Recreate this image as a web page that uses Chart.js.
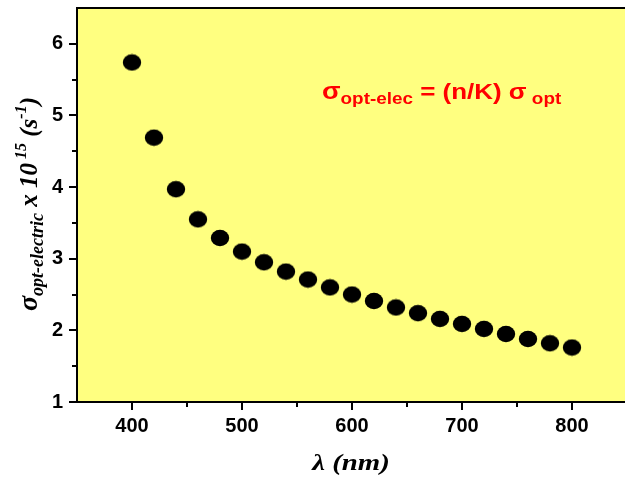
<!DOCTYPE html>
<html>
<head>
<meta charset="utf-8">
<script src="https://cdn.jsdelivr.net/npm/chart.js@4"></script>
<style>
  html, body { margin: 0; padding: 0; background: #fff; overflow: hidden; }
  canvas { display: block; }
</style>
</head>
<body>
<canvas id="myChart" width="632" height="478"></canvas>
<script>
// Data
const wavelengths = [400, 420, 440, 460, 480, 500, 520, 540, 560, 580, 600,
                     620, 640, 660, 680, 700, 720, 740, 760, 780, 800];
const sigmaOptElec = [5.74, 4.69, 3.97, 3.55, 3.29, 3.10, 2.95, 2.82, 2.71, 2.60, 2.50,
                      2.41, 2.32, 2.24, 2.16, 2.09, 2.02, 1.95, 1.88, 1.82, 1.76];
const xTicks = [400, 500, 600, 700, 800];
const yTicks = [1, 2, 3, 4, 5, 6];
const xMinor = [350, 450, 550, 650, 750, 850];
const yMinor = [1.5, 2.5, 3.5, 4.5, 5.5];

// Ellipse marker (the original is a little wider than tall)
const dot = document.createElement('canvas');
dot.width = 20; dot.height = 18;
const dctx = dot.getContext('2d');
dctx.fillStyle = '#000';
dctx.beginPath();
dctx.ellipse(10, 9, 9.2, 8.2, 0, 0, Math.PI * 2);
dctx.fill();

const serif = '"Liberation Serif", "Times New Roman", serif';
const sans = '"Liberation Sans", Arial, sans-serif';

// draw a run of [text, font, dy] pieces starting at x, returns end x
function drawRuns(ctx, runs, x, y) {
  runs.forEach(r => {
    ctx.font = r[1];
    ctx.fillText(r[0], x, y + r[2]);
    x += ctx.measureText(r[0]).width;
  });
  return x;
}
function runsWidth(ctx, runs) {
  let w = 0;
  runs.forEach(r => { ctx.font = r[1]; w += ctx.measureText(r[0]).width; });
  return w;
}

const decor = {
  id: 'decor',
  beforeDraw(chart) {
    const { ctx, chartArea: a } = chart;
    ctx.save();
    ctx.fillStyle = '#FFFF80';
    ctx.fillRect(a.left, a.top, a.right - a.left, a.bottom - a.top);
    ctx.restore();
  },
  afterDraw(chart) {
    const { ctx, chartArea: a, scales } = chart;
    ctx.save();
    // frame
    ctx.strokeStyle = '#000';
    ctx.lineWidth = 2;
    ctx.strokeRect(a.left, a.top, a.right - a.left, a.bottom - a.top);

    // minor ticks
    ctx.beginPath();
    xMinor.forEach(v => {
      const px = Math.round(scales.x.getPixelForValue(v));
      if (px > a.left + 1 && px < a.right - 1) {
        ctx.moveTo(px, a.bottom);
        ctx.lineTo(px, a.bottom + 5);
      }
    });
    yMinor.forEach(v => {
      const py = Math.round(scales.y.getPixelForValue(v));
      ctx.moveTo(a.left, py);
      ctx.lineTo(a.left - 5, py);
    });
    ctx.stroke();

    ctx.fillStyle = '#000';
    ctx.textBaseline = 'alphabetic';

    // x axis title (stretched a bit, like the source)
    const xRuns = [['\u03bb (nm)', 'italic bold 24px ' + serif, 0]];
    const xw = runsWidth(ctx, xRuns) * 1.2;
    ctx.save();
    ctx.translate(351 - xw / 2, 470);
    ctx.scale(1.2, 1);
    drawRuns(ctx, xRuns, 0, 0);
    ctx.restore();

    // y axis title, rotated
    const yRuns = [
      ['\u03c3', 'italic bold 28px ' + serif, 0],
      ['opt-electric', 'italic bold 18px ' + serif, 6],
      [' x 10', 'italic bold 25px ' + serif, 0],
      [' 15', 'italic bold 16px ' + serif, -11],
      [' (s', 'italic bold 25px ' + serif, 0],
      ['-1', 'italic bold 16px ' + serif, -11],
      [')', 'italic bold 25px ' + serif, 0]
    ];
    const yw = runsWidth(ctx, yRuns);
    ctx.save();
    ctx.translate(37, 204);
    ctx.rotate(-Math.PI / 2);
    drawRuns(ctx, yRuns, -yw / 2, 0);
    ctx.restore();

    // formula annotation
    ctx.fillStyle = '#FF0000';
    ctx.save();
    ctx.translate(322, 99);
    ctx.scale(1.18, 1);
    drawRuns(ctx, [
      ['\u03c3', 'bold 23px ' + sans, 0],
      ['opt-elec', 'bold 16px ' + sans, 5],
      [' = (n/K) \u03c3', 'bold 22px ' + sans, 0],
      [' opt', 'bold 16px ' + sans, 5]
    ], 0, 0);
    ctx.restore();
    ctx.restore();
  }
};

const ctx = document.getElementById('myChart');
new Chart(ctx, {
  type: 'scatter',
  data: {
    datasets: [{
      data: wavelengths.map((w, i) => ({ x: w, y: sigmaOptElec[i] })),
      pointStyle: dot,
      backgroundColor: '#000',
      borderColor: '#000'
    }]
  },
  options: {
    responsive: false,
    animation: false,
    devicePixelRatio: 1,
    layout: { padding: { left: 0, top: 8, right: 2, bottom: 0 } },
    plugins: { legend: { display: false }, tooltip: { enabled: false } },
    scales: {
      x: {
        type: 'linear',
        min: 350,
        max: 850,
        afterFit: s => { s.height = 76; s.paddingLeft = 0; s.paddingRight = 0; },
        afterBuildTicks: s => { s.ticks = xTicks.map(v => ({ value: v })); },
        grid: { drawOnChartArea: false, tickLength: 8, lineWidth: 2, color: '#000' },
        border: { display: true, width: 2, color: '#000' },
        ticks: {
          color: '#000',
          padding: 4,
          maxRotation: 0,
          font: { family: sans, size: 20, weight: 'bold' }
        }
      },
      y: {
        min: 1,
        max: 6.5,
        afterFit: s => { s.width = 77; s.paddingTop = 0; s.paddingBottom = 0; },
        afterBuildTicks: s => { s.ticks = yTicks.map(v => ({ value: v })); },
        grid: { drawOnChartArea: false, tickLength: 8, lineWidth: 2, color: '#000' },
        border: { display: true, width: 2, color: '#000' },
        ticks: {
          color: '#000',
          padding: 6,
          font: { family: sans, size: 20, weight: 'bold' }
        }
      }
    }
  },
  plugins: [decor]
});
</script>
</body>
</html>
